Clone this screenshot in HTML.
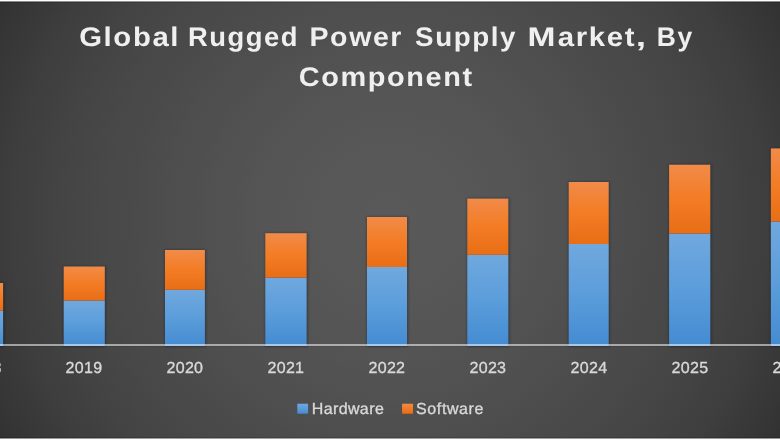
<!DOCTYPE html>
<html><head><meta charset="utf-8"><title>Global Rugged Power Supply Market, By Component</title>
<style>
html,body{margin:0;padding:0;background:#3a3a3a;}
body{width:780px;height:440px;overflow:hidden;font-family:"Liberation Sans",sans-serif;}
svg{display:block;-webkit-font-smoothing:antialiased;text-rendering:geometricPrecision;font-family:"Liberation Sans",sans-serif;}
</style></head><body>
<svg width="780" height="440" viewBox="0 0 780 440">
<defs>
<radialGradient id="bg" gradientUnits="userSpaceOnUse" cx="390" cy="220" r="520"><stop offset="0.00%" stop-color="rgb(89,89,89)"/><stop offset="3.85%" stop-color="rgb(89,89,89)"/><stop offset="7.69%" stop-color="rgb(88,88,88)"/><stop offset="11.54%" stop-color="rgb(88,88,88)"/><stop offset="15.38%" stop-color="rgb(87,87,87)"/><stop offset="19.23%" stop-color="rgb(86,86,86)"/><stop offset="23.08%" stop-color="rgb(85,85,85)"/><stop offset="26.92%" stop-color="rgb(84,84,84)"/><stop offset="30.77%" stop-color="rgb(82,82,82)"/><stop offset="34.62%" stop-color="rgb(81,81,81)"/><stop offset="38.46%" stop-color="rgb(79,79,79)"/><stop offset="42.31%" stop-color="rgb(78,78,78)"/><stop offset="46.15%" stop-color="rgb(76,76,76)"/><stop offset="50.00%" stop-color="rgb(74,74,74)"/><stop offset="53.85%" stop-color="rgb(73,73,73)"/><stop offset="57.69%" stop-color="rgb(71,71,71)"/><stop offset="61.54%" stop-color="rgb(69,69,69)"/><stop offset="65.38%" stop-color="rgb(67,67,67)"/><stop offset="69.23%" stop-color="rgb(64,64,64)"/><stop offset="73.08%" stop-color="rgb(62,62,62)"/><stop offset="76.92%" stop-color="rgb(58,58,58)"/><stop offset="80.77%" stop-color="rgb(55,55,55)"/><stop offset="84.62%" stop-color="rgb(51,51,51)"/><stop offset="88.46%" stop-color="rgb(47,47,47)"/><stop offset="92.31%" stop-color="rgb(43,43,43)"/><stop offset="96.15%" stop-color="rgb(39,39,39)"/><stop offset="100.00%" stop-color="rgb(35,35,35)"/></radialGradient>
<linearGradient id="go" x1="0" y1="0" x2="0" y2="1"><stop offset="0" stop-color="#F18B49"/><stop offset="0.5" stop-color="#F37C24"/><stop offset="1" stop-color="#E96E16"/></linearGradient>
<linearGradient id="gb" x1="0" y1="0" x2="0" y2="1"><stop offset="0" stop-color="#70A8DE"/><stop offset="0.5" stop-color="#5B9DDB"/><stop offset="1" stop-color="#448BD1"/></linearGradient>
<filter id="sh" x="-20%" y="-20%" width="140%" height="140%"><feGaussianBlur stdDeviation="0.8"/></filter>
</defs>
<rect x="0" y="0" width="780" height="440" fill="url(#bg)"/>
<rect x="-37.8" y="282.6" width="42.1" height="64.2" fill="#0a1420" opacity="0.36" filter="url(#sh)"/><rect x="-37.4" y="310.75" width="40.5" height="35.25" fill="url(#gb)"/><rect x="-37.4" y="283" width="40.5" height="27.75" fill="url(#go)"/><rect x="63.300000000000004" y="266.1" width="42.7" height="80.7" fill="#0a1420" opacity="0.36" filter="url(#sh)"/><rect x="63.7" y="300.5" width="41.1" height="45.5" fill="url(#gb)"/><rect x="63.7" y="266.5" width="41.1" height="34.0" fill="url(#go)"/><rect x="164.6" y="249.6" width="41.5" height="97.2" fill="#0a1420" opacity="0.36" filter="url(#sh)"/><rect x="165.0" y="289.8" width="39.9" height="56.19999999999999" fill="url(#gb)"/><rect x="165.0" y="250" width="39.9" height="39.80000000000001" fill="url(#go)"/><rect x="264.90000000000003" y="232.79999999999998" width="42.9" height="114.00000000000001" fill="#0a1420" opacity="0.36" filter="url(#sh)"/><rect x="265.3" y="277.6" width="41.3" height="68.39999999999998" fill="url(#gb)"/><rect x="265.3" y="233.2" width="41.3" height="44.400000000000034" fill="url(#go)"/><rect x="366.6" y="216.6" width="41.6" height="130.2" fill="#0a1420" opacity="0.36" filter="url(#sh)"/><rect x="367" y="267" width="40" height="79" fill="url(#gb)"/><rect x="367" y="217" width="40" height="50" fill="url(#go)"/><rect x="466.90000000000003" y="198.2" width="42.6" height="148.6" fill="#0a1420" opacity="0.36" filter="url(#sh)"/><rect x="467.3" y="254.8" width="41" height="91.19999999999999" fill="url(#gb)"/><rect x="467.3" y="198.6" width="41" height="56.20000000000002" fill="url(#go)"/><rect x="568.3000000000001" y="181.6" width="41.6" height="165.2" fill="#0a1420" opacity="0.36" filter="url(#sh)"/><rect x="568.7" y="244" width="40" height="102" fill="url(#gb)"/><rect x="568.7" y="182" width="40" height="62" fill="url(#go)"/><rect x="668.7" y="164.29999999999998" width="42.800000000000004" height="182.5" fill="#0a1420" opacity="0.36" filter="url(#sh)"/><rect x="669.1" y="233.5" width="41.2" height="112.5" fill="url(#gb)"/><rect x="669.1" y="164.7" width="41.2" height="68.80000000000001" fill="url(#go)"/><rect x="770.45" y="148.0" width="41.6" height="198.79999999999998" fill="#0a1420" opacity="0.36" filter="url(#sh)"/><rect x="770.85" y="221.5" width="40" height="124.5" fill="url(#gb)"/><rect x="770.85" y="148.4" width="40" height="73.1" fill="url(#go)"/>
<rect x="0" y="346" width="780" height="1" fill="#000" opacity="0.08"/>
<rect x="0" y="344" width="780" height="2" fill="#fff" opacity="0.53"/>
<g opacity="0.999">
<text x="-16.6" y="372.7" text-anchor="middle" font-size="16" fill="#d9d9d9" stroke="#d9d9d9" stroke-width="0.35" letter-spacing="0.3">2018</text><text x="84.0" y="372.7" text-anchor="middle" font-size="16" fill="#d9d9d9" stroke="#d9d9d9" stroke-width="0.35" letter-spacing="0.3">2019</text><text x="184.9" y="372.7" text-anchor="middle" font-size="16" fill="#d9d9d9" stroke="#d9d9d9" stroke-width="0.35" letter-spacing="0.3">2020</text><text x="285.9" y="372.7" text-anchor="middle" font-size="16" fill="#d9d9d9" stroke="#d9d9d9" stroke-width="0.35" letter-spacing="0.3">2021</text><text x="386.9" y="372.7" text-anchor="middle" font-size="16" fill="#d9d9d9" stroke="#d9d9d9" stroke-width="0.35" letter-spacing="0.3">2022</text><text x="487.9" y="372.7" text-anchor="middle" font-size="16" fill="#d9d9d9" stroke="#d9d9d9" stroke-width="0.35" letter-spacing="0.3">2023</text><text x="589.0" y="372.7" text-anchor="middle" font-size="16" fill="#d9d9d9" stroke="#d9d9d9" stroke-width="0.35" letter-spacing="0.3">2024</text><text x="690.0" y="372.7" text-anchor="middle" font-size="16" fill="#d9d9d9" stroke="#d9d9d9" stroke-width="0.35" letter-spacing="0.3">2025</text><text x="791.0" y="372.7" text-anchor="middle" font-size="16" fill="#d9d9d9" stroke="#d9d9d9" stroke-width="0.35" letter-spacing="0.3">2026</text>
<text transform="scale(1.0846,1)" x="73.03" y="46" font-size="27" font-weight="bold" fill="#f0f0f0" letter-spacing="1.5">Global</text><text transform="scale(1.0148,1)" x="185.22" y="46" font-size="27" font-weight="bold" fill="#f0f0f0" letter-spacing="1.5">Rugged</text><text transform="scale(1.0571,1)" x="292.77" y="46" font-size="27" font-weight="bold" fill="#f0f0f0" letter-spacing="1.5">Power</text><text transform="scale(1.0277,1)" x="403.93" y="46" font-size="27" font-weight="bold" fill="#f0f0f0" letter-spacing="1.5">Supply</text><text transform="scale(1.2430,1)" x="424.42" y="46" font-size="27" font-weight="bold" fill="#f0f0f0" letter-spacing="1.5">M</text><text transform="scale(1.0889,1)" x="512.15" y="46" font-size="27" font-weight="bold" fill="#f0f0f0" letter-spacing="1.5">arket</text><text transform="scale(1.3753,1)" x="462.27" y="46" font-size="27" font-weight="bold" fill="#f0f0f0" letter-spacing="1.5">,</text><text transform="scale(0.9807,1)" x="669.75" y="46" font-size="27" font-weight="bold" fill="#f0f0f0" letter-spacing="1.5">By</text><text transform="scale(1.0704,1)" x="279.07" y="86" font-size="27" font-weight="bold" fill="#f0f0f0" letter-spacing="1.5">Component</text>
<rect x="297.3" y="403.7" width="10.8" height="10" fill="url(#gb)"/>
<text x="311.7" y="413.9" font-size="16" fill="#d9d9d9" stroke="#d9d9d9" stroke-width="0.35" letter-spacing="0.39">Hardware</text>
<rect x="402.1" y="403.7" width="10.9" height="10" fill="url(#go)"/>
<text x="416.1" y="413.9" font-size="16" fill="#d9d9d9" stroke="#d9d9d9" stroke-width="0.35" letter-spacing="0.6">Software</text>
</g>
<rect x="0" y="1" width="780" height="2" fill="#000" opacity="0.13"/>
<rect x="0" y="0" width="780" height="1.45" fill="#ffffff"/>
<rect x="0" y="437" width="780" height="2" fill="#000" opacity="0.13"/>
<rect x="0" y="438.5" width="780" height="1.5" fill="#ffffff"/>
</svg>
</body></html>
